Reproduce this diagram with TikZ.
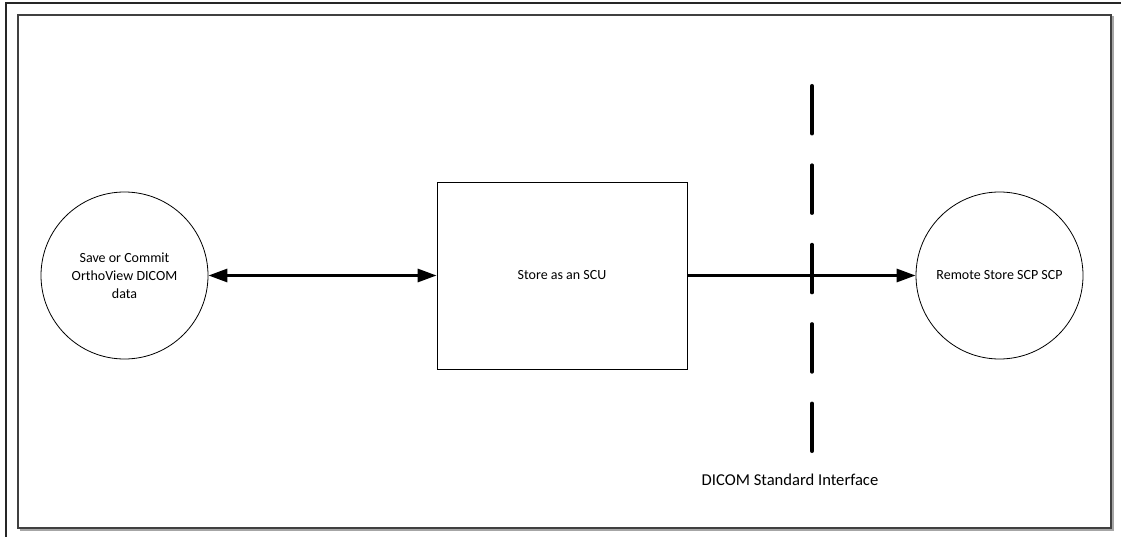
\documentclass[tikz,border=0pt]{standalone}
\usepackage{fontspec}
\setmainfont{Carlito}
\usetikzlibrary{arrows.meta}
\tikzset{
  proc/.style={draw, circle, line width=0.8pt, minimum size=167pt, inner sep=0pt, align=center, font=\fontsize{14}{18}\selectfont},
  box/.style={draw, rectangle, line width=0.8pt, minimum width=250pt, minimum height=187pt, inner sep=0pt, font=\fontsize{14}{18}\selectfont},
  flow/.style={line width=3pt, -{Triangle[length=19pt,width=13pt]}},
  bflow/.style={line width=3pt, {Triangle[length=19pt,width=13pt]}-{Triangle[length=19pt,width=13pt]}},
  boundary/.style={line width=3.5pt, line cap=round, dash pattern=on 48pt off 31.4pt},
  lbl/.style={font=\fontsize{16.6}{18}\selectfont, inner sep=0pt}
}
\begin{document}
\begin{tikzpicture}[x=1pt,y=-1pt]
\useasboundingbox (0,0) rectangle (1121,537);
\fill[white] (0,0) rectangle (1121,537);
% outer frame (cropped)
\draw[line width=1.2pt, black!85] (6,537) -- (6,3) -- (1121,3);
% inner frame with shadow
\draw[line width=1.6pt, black!35] (19.5,530) -- (1113,530) -- (1113,16.5);
\draw[line width=1.2pt, black!75] (18,15) rectangle (1111,528);
% nodes
\node[proc] (save) at (124.5,275.5) {Save or Commit\\OrthoView DICOM\\data};
\node[box] (scu) at (562,275.5) {Store as an SCU};
\node[proc] (scp) at (999.5,275.5) {Remote Store SCP SCP};
\coordinate (btop) at (812,85.75);
\coordinate (bbot) at (812,451.25);
\node[lbl] (iface) at (790,480) {DICOM Standard Interface};
% connectors
\draw[boundary] (btop) -- (bbot);
\draw[bflow] (save) -- (scu);
\draw[flow] (scu) -- (scp);
\end{tikzpicture}
\end{document}
